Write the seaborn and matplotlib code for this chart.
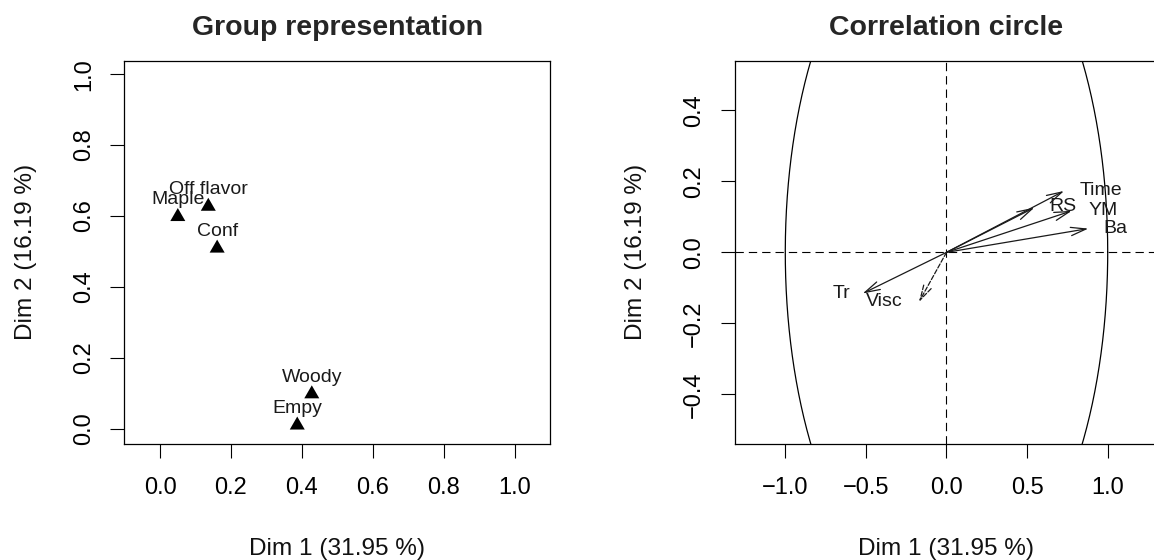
import numpy as np
import matplotlib
matplotlib.use("Agg")
import matplotlib.pyplot as plt
from matplotlib.markers import MarkerStyle
import seaborn as sns

# Group representation (left panel)
groups = ["Maple", "Off flavor", "Conf", "Woody", "Empy"]
grp_dim1 = [0.050, 0.136, 0.161, 0.428, 0.387]
grp_dim2 = [0.598, 0.627, 0.509, 0.098, 0.010]

# Correlation circle (right panel): arrow tips and label anchors
variables = ["Time", "RS", "YM", "Ba", "Tr", "Visc"]
var_dim1 = [0.729, 0.545, 0.777, 0.880, -0.520, -0.171]
var_dim2 = [0.173, 0.126, 0.117, 0.067, -0.116, -0.140]
var_dashed = [False, False, False, False, False, True]
lab_dim1 = [0.960, 0.721, 0.969, 1.047, -0.654, -0.387]
lab_dim2 = [0.161, 0.116, 0.105, 0.055, -0.130, -0.151]

left_ticks = [0.0, 0.2, 0.4, 0.6, 0.8, 1.0]
left_ticklabels = ["0.0", "0.2", "0.4", "0.6", "0.8", "1.0"]
circ_xticks = [-1.0, -0.5, 0.0, 0.5, 1.0]
circ_xticklabels = ["\u22121.0", "\u22120.5", "0.0", "0.5", "1.0"]
circ_yticks = [-0.4, -0.2, 0.0, 0.2, 0.4]
circ_yticklabels = ["\u22120.4", "\u22120.2", "0.0", "0.2", "0.4"]

xlab = "Dim 1 (31.95 %)"
ylab = "Dim 2 (16.19 %)"

sns.set_theme(style="ticks")
plt.rcParams["font.family"] = ["Liberation Sans", "DejaVu Sans"]

W, H = 1154, 560
fig = plt.figure(figsize=(W / 100, H / 100), dpi=100)
ax1 = fig.add_axes([124.4 / W, 1 - 444 / H, (550.2 - 124.4) / W, (444 - 60.7) / H])
# right panel runs past the figure edge, as in the (cropped) reference
ax2 = fig.add_axes([734.5 / W, 1 - 444 / H, (1158.5 - 734.5) / W, (444 - 60.7) / H])


def style_axes(ax, title):
    for s in ax.spines.values():
        s.set_visible(True)
        s.set_color("black")
        s.set_linewidth(0.9)
    ax.tick_params(axis="both", direction="out", length=10, width=0.8,
                   colors="black", labelsize=17)
    ax.tick_params(axis="x", pad=14)
    ax.tick_params(axis="y", pad=11)
    for t in ax.get_yticklabels():
        t.set_rotation(90)
        t.set_va("center")
    ax.set_xlabel(xlab, fontsize=17.6, labelpad=28, color="#111111")
    ax.set_ylabel(ylab, fontsize=17.6, labelpad=26, color="#111111")
    ax.set_title(title, fontsize=20.5, fontweight="bold", pad=18.7)
    ax.grid(False)


# left: group representation
tri = MarkerStyle([(-1.0, -0.577), (1.0, -0.577), (0.0, 1.155)])
sns.scatterplot(x=grp_dim1, y=grp_dim2, marker=tri, s=156, color="black",
                edgecolor="none", linewidth=0, ax=ax1, legend=False)
for name, x, y in zip(groups, grp_dim1, grp_dim2):
    ax1.annotate(name, (x, y), xytext=(0, 9), textcoords="offset points",
                 ha="center", va="baseline", fontsize=14, color="#1a1a1a")
ax1.set_xlim(-0.1007, 1.1007)
ax1.set_ylim(-0.043, 1.038)
ax1.set_xticks(left_ticks)
ax1.set_xticklabels(left_ticklabels)
ax1.set_yticks(left_ticks)
ax1.set_yticklabels(left_ticklabels)
style_axes(ax1, "Group representation")

# right: correlation circle
theta = np.linspace(0, 2 * np.pi, 500)
sns.lineplot(x=np.cos(theta), y=np.sin(theta), sort=False, estimator=None,
             color="black", linewidth=0.9, ax=ax2)
ax2.axhline(0, color="black", linewidth=0.8, dashes=(7.5, 4.5))
ax2.axvline(0, color="black", linewidth=0.8, dashes=(7.5, 4.5))
for name, x, y, dashed, lx, ly in zip(variables, var_dim1, var_dim2, var_dashed,
                                      lab_dim1, lab_dim2):
    ax2.annotate("", xy=(x, y), xytext=(0, 0),
                 arrowprops=dict(arrowstyle="->,head_length=1.1,head_width=0.3",
                                 color="#1a1a1a", lw=0.9, mutation_scale=10,
                                 shrinkA=0, shrinkB=0,
                                 linestyle="--" if dashed else "-"))
    ax2.text(lx, ly, name, ha="center", va="baseline", fontsize=14, color="#1a1a1a")
ax2.set_xlim(-1.315, 1.315)
ax2.set_ylim(-0.54, 0.54)
ax2.set_xticks(circ_xticks)
ax2.set_xticklabels(circ_xticklabels)
ax2.set_yticks(circ_yticks)
ax2.set_yticklabels(circ_yticklabels)
style_axes(ax2, "Correlation circle")

fig.savefig("out.png", dpi=100, facecolor="white")
